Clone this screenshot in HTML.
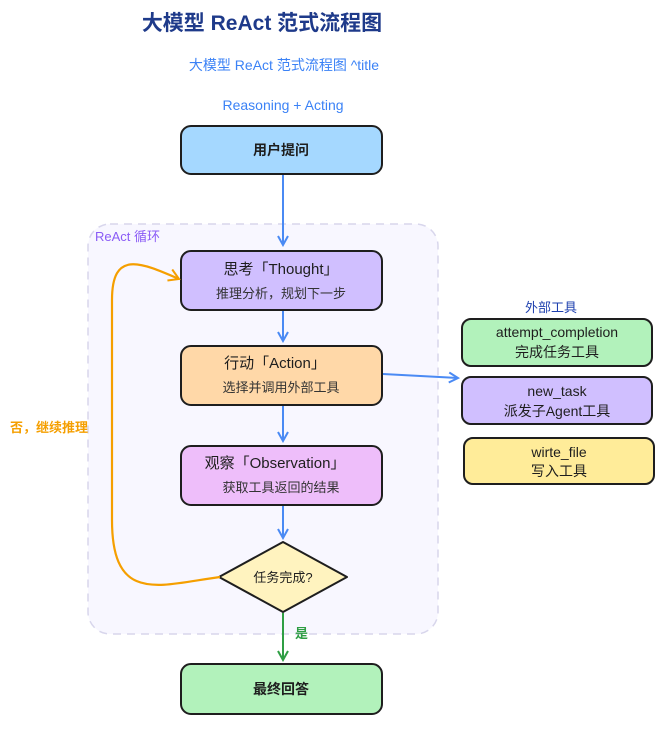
<!DOCTYPE html>
<html><head><meta charset="utf-8"><style>
body{margin:0;background:#fff}
svg text{font-family:"Liberation Sans","Noto Sans CJK SC",sans-serif}
</style></head><body>
<svg width="663" height="725" viewBox="0 0 663 725" xmlns="http://www.w3.org/2000/svg">
<defs>
<marker id="ab" markerWidth="12" markerHeight="12" refX="10" refY="6" orient="auto" markerUnits="userSpaceOnUse"><path d="M1,1 L10,6 L1,11" fill="none" stroke="#4a8af4" stroke-width="2"/></marker>
<marker id="ao" markerWidth="14" markerHeight="14" refX="11" refY="7" orient="auto" markerUnits="userSpaceOnUse"><path d="M1,1 L11,7 L1,13" fill="none" stroke="#f59f00" stroke-width="2"/></marker>
<marker id="ag" markerWidth="12" markerHeight="12" refX="10" refY="6" orient="auto" markerUnits="userSpaceOnUse"><path d="M1,1 L10,6 L1,11" fill="none" stroke="#2f9e44" stroke-width="2"/></marker>
</defs>
<text x="262" y="30" text-anchor="middle" font-size="21" font-weight="bold" fill="#1e3a8a">大模型 ReAct 范式流程图</text>
<text x="284" y="70" text-anchor="middle" font-size="14" fill="#3b82f6">大模型 ReAct 范式流程图 ^title</text>
<text x="283" y="110" text-anchor="middle" font-size="14" fill="#3b82f6">Reasoning + Acting</text>
<rect x="88" y="224" width="350" height="410" rx="22" fill="#f8f7ff" stroke="#d8d6ec" stroke-dasharray="8 6" stroke-width="1.5"/>
<text x="95" y="241" font-size="13" fill="#8b5cf6">ReAct 循环</text>
<g stroke="#1e1e1e" stroke-width="2">
<rect x="181" y="126" width="201" height="48" rx="10" fill="#a5d8ff"/>
<rect x="181" y="251" width="201" height="59" rx="10" fill="#d0bfff"/>
<rect x="181" y="346" width="201" height="59" rx="10" fill="#ffd8a8"/>
<rect x="181" y="446" width="201" height="59" rx="10" fill="#eebefa"/>
<path d="M283,542 L347,577 L283,612 L219,577 Z" fill="#fff3bf" stroke-linejoin="round"/>
<rect x="181" y="664" width="201" height="50" rx="10" fill="#b2f2bb"/>
<rect x="462" y="319" width="190" height="47" rx="9" fill="#b2f2bb"/>
<rect x="462" y="377" width="190" height="47" rx="9" fill="#d0bfff"/>
<rect x="464" y="438" width="190" height="46" rx="9" fill="#ffec99"/>
</g>
<g fill="#1e1e1e" text-anchor="middle">
<text x="281" y="155" font-size="14" font-weight="bold">用户提问</text>
<text x="281" y="274" font-size="15">思考「Thought」</text>
<text x="281" y="298" font-size="13" fill="#333">推理分析，规划下一步</text>
<text x="275" y="368" font-size="15">行动「Action」</text>
<text x="281" y="392" font-size="13" fill="#333">选择并调用外部工具</text>
<text x="275" y="468" font-size="15">观察「Observation」</text>
<text x="281" y="492" font-size="13" fill="#333">获取工具返回的结果</text>
<text x="283" y="582" font-size="13">任务完成?</text>
<text x="281" y="694" font-size="14" font-weight="bold">最终回答</text>
<text x="557" y="337" font-size="14">attempt_completion</text>
<text x="557" y="357" font-size="14">完成任务工具</text>
<text x="557" y="396" font-size="14">new_task</text>
<text x="557" y="416" font-size="14">派发子Agent工具</text>
<text x="559" y="457" font-size="14">wirte_file</text>
<text x="559" y="476" font-size="14">写入工具</text>
</g>
<text x="551" y="312" text-anchor="middle" font-size="13" fill="#1e40af">外部工具</text>
<g stroke="#4a8af4" stroke-width="2" fill="none">
<path d="M283,175 L283,245" marker-end="url(#ab)"/>
<path d="M283,311 L283,341" marker-end="url(#ab)"/>
<path d="M283,406 L283,441" marker-end="url(#ab)"/>
<path d="M283,506 L283,538" marker-end="url(#ab)"/>
<path d="M383,374 L458,378" marker-end="url(#ab)"/>
</g>
<path d="M220,577 C160,585 112,605 112,520 L112,300 C112,250 140,262 179,279" stroke="#f59f00" stroke-width="2.2" fill="none" marker-end="url(#ao)"/>
<text x="10" y="432" font-size="13" font-weight="bold" fill="#f59f00">否，继续推理</text>
<path d="M283,613 L283,660" stroke="#2f9e44" stroke-width="2" fill="none" marker-end="url(#ag)"/>
<text x="295" y="638" font-size="13" font-weight="bold" fill="#2f9e44">是</text>
</svg>
</body></html>
